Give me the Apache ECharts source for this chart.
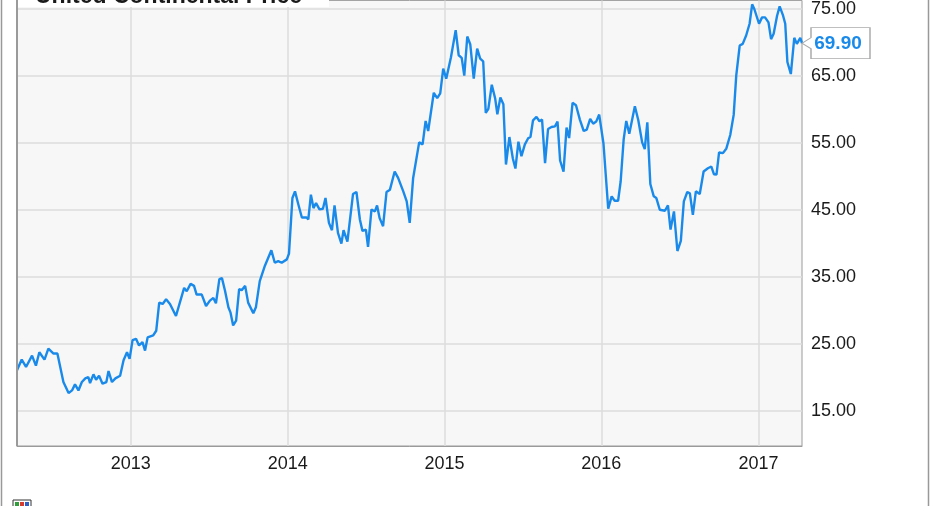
<!DOCTYPE html>
<html>
<head>
<meta charset="utf-8">
<script src="https://cdn.jsdelivr.net/npm/echarts@6/dist/echarts.min.js"></script>
<style>
html,body{margin:0;padding:0;background:#fff;}
#chart{width:931px;height:506px;}
</style>
</head>
<body>
<div id="chart"></div>
<script>
// ---- data ----
const seriesName = 'United Continental Price';
const dates = [
'2012-04-11','2012-04-22','2012-05-02','2012-05-16','2012-05-25','2012-06-02','2012-06-14','2012-06-23','2012-07-05','2012-07-14',
'2012-07-28','2012-08-09','2012-08-17','2012-08-24','2012-09-01','2012-09-09','2012-09-17','2012-09-24','2012-09-28','2012-10-06',
'2012-10-12','2012-10-19','2012-10-27','2012-11-05','2012-11-10','2012-11-18','2012-11-26','2012-12-07','2012-12-15','2012-12-23',
'2012-12-29','2013-01-05','2013-01-13','2013-01-20','2013-01-28','2013-02-03','2013-02-09','2013-02-22','2013-03-01','2013-03-08',
'2013-03-16','2013-03-24','2013-04-02','2013-04-16','2013-04-25','2013-05-05','2013-05-11','2013-05-20','2013-05-28','2013-06-03',
'2013-06-15','2013-06-25','2013-07-04','2013-07-12','2013-07-18','2013-07-26','2013-08-01','2013-08-08','2013-08-16','2013-08-21',
'2013-08-27','2013-09-03','2013-09-10','2013-09-16','2013-09-24','2013-10-01','2013-10-13','2013-10-19','2013-10-28','2013-11-09',
'2013-11-24','2013-12-02','2013-12-10','2013-12-18','2013-12-30','2014-01-04','2014-01-12','2014-01-18','2014-01-26','2014-02-03',
'2014-02-14','2014-02-18','2014-02-24','2014-03-02','2014-03-08','2014-03-16','2014-03-24','2014-03-30','2014-04-07','2014-04-14',
'2014-04-20','2014-04-28','2014-05-06','2014-05-11','2014-05-20','2014-06-02','2014-06-10','2014-06-18','2014-06-24','2014-07-02',
'2014-07-07','2014-07-15','2014-07-23','2014-07-28','2014-08-03','2014-08-11','2014-08-19','2014-08-27','2014-09-07','2014-09-15',
'2014-09-27','2014-10-05','2014-10-12','2014-10-20','2014-11-03','2014-11-11','2014-11-18','2014-11-24','2014-12-07','2014-12-15',
'2014-12-22','2014-12-29','2015-01-05','2015-01-16','2015-01-27','2015-02-03','2015-02-10','2015-02-16','2015-02-23','2015-03-02',
'2015-03-10','2015-03-18','2015-03-25','2015-04-01','2015-04-07','2015-04-13','2015-04-21','2015-04-29','2015-05-04','2015-05-11',
'2015-05-18','2015-05-24','2015-06-01','2015-06-09','2015-06-15','2015-06-22','2015-06-29','2015-07-07','2015-07-15','2015-07-20',
'2015-07-26','2015-08-03','2015-08-10','2015-08-16','2015-08-23','2015-08-30','2015-09-07','2015-09-15','2015-09-21','2015-09-27',
'2015-10-05','2015-10-12','2015-10-18','2015-10-26','2015-11-03','2015-11-12','2015-11-21','2015-11-28','2015-12-06','2015-12-13',
'2015-12-20','2015-12-27','2016-01-06','2016-01-17','2016-01-25','2016-02-01','2016-02-09','2016-02-15','2016-02-22','2016-02-28',
'2016-03-06','2016-03-19','2016-03-27','2016-04-05','2016-04-11','2016-04-17','2016-04-24','2016-05-02','2016-05-08','2016-05-16',
'2016-05-28','2016-06-04','2016-06-10','2016-06-18','2016-06-26','2016-07-04','2016-07-11','2016-07-19','2016-07-25','2016-08-01',
'2016-08-08','2016-08-17','2016-08-26','2016-09-05','2016-09-13','2016-09-19','2016-09-25','2016-10-01','2016-10-10','2016-10-18',
'2016-10-27','2016-11-04','2016-11-10','2016-11-18','2016-11-25','2016-12-03','2016-12-11','2016-12-17','2016-12-22','2017-01-02',
'2017-01-09','2017-01-16','2017-01-24','2017-01-30','2017-02-05','2017-02-13','2017-02-19','2017-02-27','2017-03-04','2017-03-09',
'2017-03-17','2017-03-25','2017-03-31','2017-04-08','2017-04-12'
];
const prices = [
21.1,22.7,21.6,23.3,21.8,23.8,22.7,24.35,23.6,23.6,
19.35,17.7,18.1,19.0,18.1,19.35,19.9,20.1,19.2,20.5,
19.7,20.3,19.1,19.35,21.0,19.35,19.9,20.3,22.6,23.8,
22.8,25.6,25.8,24.8,25.3,24.05,26.0,26.3,27.0,31.2,
31.0,31.7,31.0,29.2,31.2,33.4,32.9,34.0,33.7,32.4,
32.4,30.7,31.5,31.9,31.1,34.7,34.85,33.0,30.5,29.7,
27.8,28.5,33.2,33.05,33.7,31.2,29.6,30.5,34.4,36.7,
39.0,37.15,37.4,37.15,37.65,38.5,46.8,47.8,45.8,43.9,
43.9,43.6,47.3,45.3,46.05,45.1,45.2,46.8,43.1,42.0,
45.7,41.6,40.0,42.0,40.3,47.4,47.7,43.6,41.9,42.1,
39.5,45.1,44.8,45.7,43.8,42.6,47.7,48.05,50.75,49.8,
47.8,46.3,43.1,49.8,55.1,54.8,58.3,56.8,62.5,61.7,
62.4,66.1,64.6,67.8,71.85,68.1,67.7,65.05,70.9,69.7,
64.6,69.1,67.6,67.2,59.5,60.1,63.7,61.6,59.3,61.8,
60.8,51.8,55.9,52.7,51.2,55.2,53.05,54.8,55.75,55.9,
58.4,58.9,58.25,58.5,52.0,57.1,57.4,57.5,58.2,52.4,
50.75,57.3,55.75,61.0,60.65,58.5,56.8,57.0,58.6,57.9,
58.2,59.25,54.9,45.2,47.05,46.4,46.4,49.3,55.6,58.3,
56.4,60.5,58.4,55.1,54.1,58.1,48.9,47.05,46.8,45.05,
44.9,45.7,42.1,44.8,38.9,40.4,46.3,47.7,47.5,44.3,
47.8,47.4,50.75,51.25,51.5,50.35,50.3,53.6,53.5,54.2,
56.2,59.2,65.1,69.55,69.8,71.05,72.8,75.7,75.0,72.8,
73.75,73.75,73.0,70.5,71.3,74.0,75.4,74.0,72.8,67.1,
65.3,70.7,69.8,70.7,69.9
];
const xTicks = ['2013-01-01','2014-01-01','2015-01-01','2016-01-01','2017-01-01'];
const xTickLabels = ['2013','2014','2015','2016','2017'];
const yTicks = [15, 25, 35, 45, 55, 65, 75];
const xMin = '2012-04-11', xMax = '2017-04-12';
const yMin = 9.81, yMax = 76.28;

const lineColor = '#1a8aea';
const ts = d => Date.parse(d + 'T00:00:00Z');
const seriesData = dates.map((d, i) => [ts(d), prices[i]]);
const last = seriesData[seriesData.length - 1];
const xTickVals = xTicks.map(ts);
const labelFor = v => {
  const i = xTickVals.indexOf(v);
  return i >= 0 ? xTickLabels[i] : '';
};

const chart = echarts.init(document.getElementById('chart'), null, {renderer: 'canvas'});
chart.setOption({
  animation: false,
  backgroundColor: '#ffffff',
  grid: {
    show: true, left: 17, right: 129, top: -2, bottom: 60,
    backgroundColor: '#f7f7f7', borderColor: '#9a9a9a', borderWidth: 1
  },
  xAxis: {
    type: 'value', min: ts(xMin), max: ts(xMax),
    axisLine: {show: true, onZero: false, lineStyle: {color: '#9a9a9a', width: 1}},
    axisTick: {show: false, customValues: xTickVals},
    splitLine: {show: true, lineStyle: {color: '#dcdcdc', width: 1.5}},
    axisLabel: {
      customValues: xTickVals,
      formatter: labelFor,
      color: '#1a1a1a', fontSize: 18, fontFamily: 'Liberation Sans, Arial, sans-serif', margin: 9
    }
  },
  yAxis: {
    type: 'value', position: 'right', min: yMin, max: yMax,
    axisLine: {show: false},
    axisTick: {show: false, customValues: yTicks},
    splitLine: {show: true, lineStyle: {color: '#dcdcdc', width: 1.5}},
    axisLabel: {
      customValues: yTicks,
      formatter: v => Number(v).toFixed(2),
      color: '#1a1a1a', fontSize: 18, fontFamily: 'Liberation Sans, Arial, sans-serif', margin: 9
    }
  },
  series: [{
    name: seriesName, type: 'line', data: seriesData,
    showSymbol: false, symbol: 'none',
    lineStyle: {color: lineColor, width: 2.4},
    clip: false,
    markPoint: {
      silent: true,
      symbol: 'path://M0,15.5 L9,10 L9,0 L68,0 L68,31 L9,31 L9,21 Z',
      symbolSize: [68, 31],
      symbolOffset: ['50%', 0],
      itemStyle: {color: '#ffffff', borderColor: '#aaaaaa', borderWidth: 1},
      label: {
        show: true, position: 'inside', offset: [2, 1],
        formatter: p => Number(p.value).toFixed(2),
        color: lineColor, fontWeight: 'bold', fontSize: 19,
        fontFamily: 'Liberation Sans, Arial, sans-serif'
      },
      data: [{coord: last, value: last[1]}]
    }
  }],
  graphic: [
    {type: 'rect', shape: {x: 18, y: 0, width: 311, height: 7}, style: {fill: '#ffffff'}, z: 10},
    {type: 'text', x: 35, y: 8, z: 11,
     style: {text: seriesName, fill: '#1a1a1a', font: 'bold 23px "Liberation Sans", Arial, sans-serif', verticalAlign: 'bottom'}},
    {type: 'line', shape: {x1: 1.5, y1: 0, x2: 1.5, y2: 506}, style: {stroke: '#999', lineWidth: 1.5}},
    {type: 'line', shape: {x1: 928.5, y1: 0, x2: 928.5, y2: 506}, style: {stroke: '#999', lineWidth: 1.5}},
    {type: 'line', shape: {x1: 17, y1: 0, x2: 17, y2: 446}, style: {stroke: '#9a9a9a', lineWidth: 2}, z: 5},
    {type: 'rect', shape: {x: 13, y: 500, width: 18, height: 8}, style: {fill: '#ffffff', stroke: '#333', lineWidth: 1}},
    {type: 'rect', shape: {x: 15, y: 502, width: 4, height: 4}, style: {fill: '#2e9d3a'}},
    {type: 'rect', shape: {x: 20, y: 502, width: 4, height: 4}, style: {fill: '#d83a2e'}},
    {type: 'rect', shape: {x: 25, y: 502, width: 4, height: 4}, style: {fill: '#2f5fc4'}}
  ]
});
</script>
</body>
</html>
